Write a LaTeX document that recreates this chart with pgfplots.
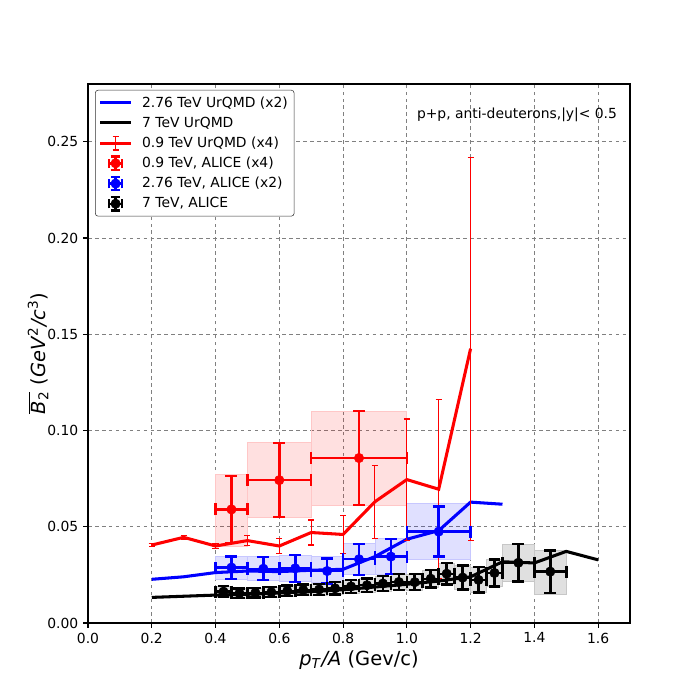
\documentclass[border=0pt]{standalone}
\usepackage{pgfplots}
\pgfplotsset{compat=1.18}
\usepackage{pgfplotstable}
\usepackage{fontspec}
\setmainfont{DejaVu Sans}

\pgfplotstableread{
x y e
0.2 0.0405 0.0008
0.3 0.0445 0.0010
0.4 0.0400 0.0015
0.5 0.0428 0.0025
0.6 0.0400 0.0040
0.7 0.0470 0.0065
0.8 0.0460 0.0100
0.9 0.0630 0.0190
1.0 0.0745 0.0315
1.1 0.0695 0.0465
1.2 0.1425 0.0995
}\redurqmd

\pgfplotstableread{
x y
0.2 0.0227
0.3 0.0240
0.4 0.0262
0.5 0.0270
0.6 0.0267
0.7 0.0274
0.8 0.0279
0.9 0.0345
1.0 0.0435
1.1 0.0480
1.2 0.0628
1.3 0.0617
}\blueurqmd

\pgfplotstableread{
x y
0.2 0.0133
0.3 0.0139
0.4 0.0145
0.5 0.0149
0.6 0.0156
0.7 0.0163
0.8 0.0173
0.9 0.0187
1.0 0.0201
1.1 0.0218
1.2 0.0240
1.3 0.0318
1.4 0.0312
1.5 0.0372
1.6 0.0328
}\blackurqmd

\pgfplotstableread{
x y ex ey
0.45 0.0590 0.05 0.0175
0.60 0.0742 0.10 0.0192
0.85 0.0857 0.15 0.0245
}\redalice

\pgfplotstableread{
x y ex ey
0.45 0.0288 0.05 0.0058
0.55 0.0282 0.05 0.0060
0.65 0.0284 0.05 0.0070
0.75 0.0270 0.05 0.0065
0.85 0.0331 0.05 0.0080
0.95 0.0345 0.05 0.0090
1.10 0.0475 0.10 0.0130
}\bluealice

\pgfplotstableread{
x y ex ey
0.425 0.0163 0.025 0.0028
0.475 0.0155 0.025 0.0025
0.525 0.0157 0.025 0.0025
0.575 0.0160 0.025 0.0026
0.625 0.0167 0.025 0.0027
0.675 0.0172 0.025 0.0028
0.725 0.0174 0.025 0.0030
0.775 0.0180 0.025 0.0032
0.825 0.0190 0.025 0.0034
0.875 0.0196 0.025 0.0036
0.925 0.0205 0.025 0.0038
0.975 0.0213 0.025 0.0040
1.025 0.0212 0.025 0.0042
1.075 0.0230 0.025 0.0045
1.125 0.0256 0.025 0.0056
1.175 0.0236 0.025 0.0062
1.225 0.0224 0.025 0.0066
1.275 0.0260 0.025 0.0070
1.35 0.0313 0.05 0.0098
1.45 0.0267 0.05 0.0110
}\blackalice

\newcommand{\sysbox}[5]{\addplot[draw=#1!22, line width=0.5pt, fill=#1, fill opacity=0.12, draw opacity=1, forget plot] coordinates {(#2,#4) (#3,#4) (#3,#5) (#2,#5)} -- cycle;}

% y error bars, x error bars and markers for one data set
\newcommand{\alicepoints}[2]{%
\addplot[#1, forget plot, draw=none, mark=none,
  error bars/.cd, y dir=both, y explicit, error mark=|,
  error bar style={draw=#1, solid, line width=1.9pt},
  error mark options={draw=#1, solid, line width=1.7pt, mark size=4.3pt}]
  table[x=x,y=y,y error=ey] {#2};
\addplot[#1, forget plot, draw=none, mark=none,
  error bars/.cd, x dir=both, x explicit, error mark=|,
  error bar style={draw=#1, solid, line width=1.7pt},
  error mark options={draw=#1, solid, line width=1.9pt, mark size=4.3pt}]
  table[x=x,y=y,x error=ex] {#2};
\addplot[#1, forget plot, only marks, mark=*, mark size=3.4pt, mark options={draw=#1, fill=#1}]
  table[x=x,y=y] {#2};}

\begin{document}
\begin{tikzpicture}
\path[use as bounding box] (0pt,0pt) rectangle (504pt,504pt);
\begin{axis}[
  at={(63.36pt,55.44pt)}, anchor=south west,
  scale only axis, width=390.24pt, height=388.08pt,
  xmin=0, xmax=1.7, ymin=0, ymax=0.28,
  xtick={0,0.2,...,1.6}, ytick={0,0.05,0.1,0.15,0.2,0.25},
  xticklabel style={/pgf/number format/.cd, fixed, fixed zerofill, precision=1},
  yticklabel style={/pgf/number format/.cd, fixed, fixed zerofill, precision=2},
  /pgf/number format/assume math mode=true,
  tick label style={font=\fontsize{10}{12}\selectfont},
  tick align=outside, major tick length=3.5pt,
  xtick pos=bottom, ytick pos=left,
  tick style={black, line width=0.8pt},
  axis line style={line width=0.8pt},
  grid=major,
  grid style={gray, line width=0.6pt, dash pattern=on 2.6pt off 2.4pt},
  xlabel={\textit{p}\textsubscript{\textit{T}}\textit{/A} (Gev/c)},
  ylabel={$\overline{\mbox{\textit{B}\textsubscript{2}}}$ (\textit{GeV}\textsuperscript{2}\textit{/c}\textsuperscript{3})},
  label style={font=\fontsize{14}{16}\selectfont},
  xlabel style={at={(axis description cs:0.5,-0.0686)}, anchor=center},
  ylabel style={at={(axis description cs:-0.0923,0.5)}, anchor=center},
  legend style={at={(0.013,0.989)}, anchor=north west, draw=black!80, rounded corners=2pt,
    font=\fontsize{10}{12}\selectfont, row sep=1.5pt, column sep=5pt, inner xsep=2.5pt, inner ysep=2.5pt},
  legend cell align=left,
]
% systematic boxes
\sysbox{red}{0.4}{0.5}{0.040}{0.077}
\sysbox{red}{0.5}{0.7}{0.055}{0.0937}
\sysbox{red}{0.7}{1.0}{0.061}{0.110}
\sysbox{blue}{0.4}{0.5}{0.0225}{0.0348}
\sysbox{blue}{0.5}{0.6}{0.0222}{0.0345}
\sysbox{blue}{0.6}{0.7}{0.0218}{0.0352}
\sysbox{blue}{0.7}{0.8}{0.0212}{0.0345}
\sysbox{blue}{0.8}{0.9}{0.0255}{0.0415}
\sysbox{blue}{0.9}{1.0}{0.0255}{0.0438}
\sysbox{blue}{1.0}{1.2}{0.0330}{0.0620}
\sysbox{black}{0.4}{0.45}{0.0135}{0.0191}
\sysbox{black}{0.45}{0.5}{0.0130}{0.0180}
\sysbox{black}{0.5}{0.55}{0.0132}{0.0182}
\sysbox{black}{0.55}{0.6}{0.0134}{0.0186}
\sysbox{black}{0.6}{0.65}{0.0140}{0.0194}
\sysbox{black}{0.65}{0.7}{0.0144}{0.0200}
\sysbox{black}{0.7}{0.75}{0.0144}{0.0204}
\sysbox{black}{0.75}{0.8}{0.0148}{0.0212}
\sysbox{black}{0.8}{0.85}{0.0156}{0.0224}
\sysbox{black}{0.85}{0.9}{0.0160}{0.0232}
\sysbox{black}{0.9}{0.95}{0.0167}{0.0243}
\sysbox{black}{0.95}{1.0}{0.0173}{0.0253}
\sysbox{black}{1.0}{1.05}{0.0170}{0.0254}
\sysbox{black}{1.05}{1.1}{0.0185}{0.0275}
\sysbox{black}{1.1}{1.15}{0.0200}{0.0312}
\sysbox{black}{1.15}{1.2}{0.0174}{0.0298}
\sysbox{black}{1.2}{1.25}{0.0158}{0.0290}
\sysbox{black}{1.25}{1.3}{0.0190}{0.0330}
\sysbox{black}{1.3}{1.4}{0.0215}{0.0410}
\sysbox{black}{1.4}{1.5}{0.0151}{0.0376}

% UrQMD lines
\addplot[blue, line width=2.2pt, forget plot] table[x=x,y=y] {\blueurqmd};
\addplot[black, line width=2.2pt, forget plot] table[x=x,y=y] {\blackurqmd};
\addplot[red, forget plot, draw=none, mark=none,
  error bars/.cd, y dir=both, y explicit, error mark=|,
  error bar style={draw=red, solid, line width=0.8pt},
  error mark options={draw=red, solid, line width=0.8pt, mark size=2.2pt}]
  table[x=x,y=y,y error=e] {\redurqmd};
\addplot[red, line width=2.2pt, forget plot] table[x=x,y=y] {\redurqmd};

% ALICE points
\alicepoints{red}{\redalice}
\alicepoints{blue}{\bluealice}
\alicepoints{black}{\blackalice}

% legend
\addlegendimage{legend image code/.code={\draw[blue, line width=2.2pt] (0pt,0pt) -- (22pt,0pt);}}
\addlegendentry{2.76 TeV UrQMD (x2)}
\addlegendimage{legend image code/.code={\draw[black, line width=2.2pt] (0pt,0pt) -- (22pt,0pt);}}
\addlegendentry{7 TeV UrQMD}
\addlegendimage{legend image code/.code={\draw[red, line width=2.2pt] (0pt,0pt) -- (22pt,0pt);
  \draw[red, line width=0.8pt] (11pt,-5pt) -- (11pt,5pt) (8.8pt,5pt) -- (13.2pt,5pt) (8.8pt,-5pt) -- (13.2pt,-5pt);}}
\addlegendentry{0.9 TeV UrQMD (x4)}
\addlegendimage{legend image code/.code={\draw[red, line width=1.7pt] (6.2pt,0pt) -- (15.8pt,0pt) (11pt,-4.8pt) -- (11pt,4.8pt)
  (6.2pt,-3.4pt) -- (6.2pt,3.4pt) (15.8pt,-3.4pt) -- (15.8pt,3.4pt) (7.6pt,4.8pt) -- (14.4pt,4.8pt) (7.6pt,-4.8pt) -- (14.4pt,-4.8pt);
  \fill[red] (11pt,0pt) circle (3.4pt);}}
\addlegendentry{0.9 TeV, ALICE (x4)}
\addlegendimage{legend image code/.code={\draw[blue, line width=1.7pt] (6.2pt,0pt) -- (15.8pt,0pt) (11pt,-4.8pt) -- (11pt,4.8pt)
  (6.2pt,-3.4pt) -- (6.2pt,3.4pt) (15.8pt,-3.4pt) -- (15.8pt,3.4pt) (7.6pt,4.8pt) -- (14.4pt,4.8pt) (7.6pt,-4.8pt) -- (14.4pt,-4.8pt);
  \fill[blue] (11pt,0pt) circle (3.4pt);}}
\addlegendentry{2.76 TeV, ALICE (x2)}
\addlegendimage{legend image code/.code={\draw[black, line width=1.7pt] (6.2pt,0pt) -- (15.8pt,0pt) (11pt,-4.8pt) -- (11pt,4.8pt)
  (6.2pt,-3.4pt) -- (6.2pt,3.4pt) (15.8pt,-3.4pt) -- (15.8pt,3.4pt) (7.6pt,4.8pt) -- (14.4pt,4.8pt) (7.6pt,-4.8pt) -- (14.4pt,-4.8pt);
  \fill[black] (11pt,0pt) circle (3.4pt);}}
\addlegendentry{7 TeV, ALICE}

\node[anchor=east, font=\fontsize{10}{12}\selectfont] at (rel axis cs:0.985,0.942) {p+p, anti-deuterons,|y|< 0.5};
\end{axis}
\end{tikzpicture}
\end{document}
